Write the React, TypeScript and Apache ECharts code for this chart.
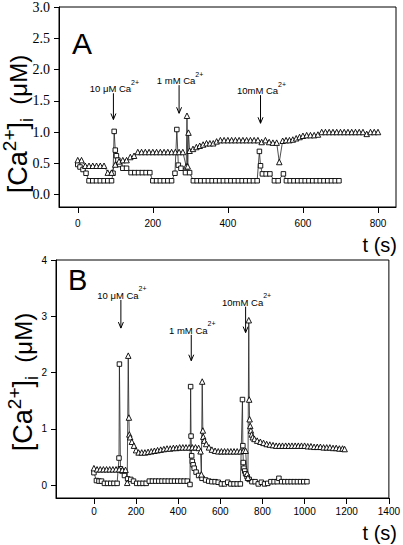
import React, { useEffect, useRef } from "react";
import * as echarts from "echarts";

// Panel A: [t (s), [Ca2+]i (µM)]
const trianglesA: [number, number][] = [
  [0, 0.55], [10, 0.55], [20, 0.46], [30, 0.46], [40, 0.46], [50, 0.46], [60, 0.46], [70, 0.46],
  [80, 0.35], [90, 0.35], [100, 0.48], [110, 0.53], [120, 0.55], [130, 0.55], [140, 0.6], [150, 0.62],
  [160, 0.68], [170, 0.68], [180, 0.68], [190, 0.68], [200, 0.68], [210, 0.68], [220, 0.68], [230, 0.68],
  [240, 0.68], [250, 0.68], [260, 0.68], [270, 0.68], [280, 0.68], [289, 0.45], [291, 1.26], [293, 0.45],
  [295, 0.99], [298, 0.7], [307, 0.73], [316, 0.76], [325, 0.78], [334, 0.8], [343, 0.82], [352, 0.82],
  [361, 0.82], [370, 0.85], [380, 0.87], [390, 0.87], [400, 0.87], [410, 0.87], [420, 0.87], [430, 0.87],
  [440, 0.87], [450, 0.87], [460, 0.87], [470, 0.87], [480, 0.87], [490, 0.84], [500, 0.87], [510, 0.84],
  [520, 0.83], [530, 0.83], [537, 0.52], [546, 0.86], [555, 0.87], [564, 0.87], [573, 0.88], [582, 0.9],
  [591, 0.92], [600, 0.94], [610, 0.95], [620, 0.95], [630, 0.95], [640, 0.96], [650, 1.0], [660, 1.0],
  [670, 1.0], [680, 1.0], [690, 1.0], [700, 1.0], [710, 1.0], [720, 1.0], [730, 1.0], [740, 1.0],
  [750, 1.0], [760, 1.0], [770, 0.97], [780, 1.0], [790, 1.0], [800, 1.0],
];
const squaresA: [number, number][] = [
  [0, 0.48], [6, 0.44], [14, 0.4], [22, 0.34], [30, 0.22], [40, 0.22], [50, 0.22], [60, 0.22],
  [70, 0.22], [80, 0.22], [90, 0.22], [94, 0.34], [97, 1.01], [100, 0.71], [103, 0.62], [107, 0.55],
  [112, 0.48], [120, 0.42], [130, 0.42], [142, 0.35], [152, 0.35], [162, 0.35], [172, 0.35], [182, 0.35],
  [192, 0.35], [200, 0.22], [210, 0.22], [220, 0.22], [230, 0.22], [240, 0.22], [250, 0.22], [259, 0.34],
  [264, 1.04], [268, 0.47], [275, 0.42], [287, 0.35], [298, 0.35], [308, 0.22], [318, 0.22], [328, 0.22],
  [338, 0.22], [348, 0.22], [358, 0.22], [368, 0.22], [378, 0.22], [388, 0.22], [398, 0.22], [408, 0.22],
  [418, 0.22], [428, 0.22], [438, 0.22], [448, 0.22], [458, 0.22], [468, 0.22], [478, 0.22], [484, 0.69],
  [487, 0.46], [492, 0.33], [502, 0.33], [512, 0.33], [524, 0.22], [534, 0.22], [548, 0.33], [556, 0.22],
  [566, 0.22], [576, 0.22], [586, 0.22], [596, 0.22], [606, 0.22], [616, 0.22], [626, 0.22], [636, 0.22],
  [646, 0.22], [656, 0.22], [666, 0.22], [676, 0.22], [686, 0.22], [696, 0.22],
];

// Panel B
const trianglesB: [number, number][] = [
  [0, 0.3], [15, 0.28], [30, 0.28], [45, 0.28], [60, 0.28], [75, 0.28], [90, 0.28], [105, 0.28],
  [120, 0.28], [135, 0.27], [150, 0.27], [158, 0.04], [163, 2.3], [166, 1.2], [168, 0.9], [172, 0.85],
  [180, 0.77], [190, 0.7], [200, 0.62], [212, 0.58], [227, 0.58], [242, 0.58], [257, 0.59], [272, 0.6],
  [287, 0.61], [302, 0.62], [317, 0.63], [332, 0.64], [347, 0.65], [362, 0.65], [377, 0.66], [392, 0.66],
  [407, 0.67], [422, 0.67], [437, 0.67], [452, 0.67], [467, 0.67], [482, 0.67], [497, 0.66], [506, 0.6],
  [510, 0.19], [514, 1.84], [517, 0.97], [519, 0.86], [524, 0.79], [533, 0.73], [546, 0.67], [560, 0.63],
  [575, 0.61], [590, 0.6], [605, 0.6], [620, 0.6], [635, 0.6], [650, 0.6], [665, 0.6], [680, 0.6],
  [695, 0.6], [710, 0.61], [720, 0.61], [727, 0.2], [731, 0.13], [735, 2.93], [737, 1.52], [739, 1.17],
  [742, 1.05], [745, 0.97], [749, 0.9], [754, 0.85], [762, 0.82], [775, 0.79], [790, 0.77], [805, 0.75],
  [820, 0.73], [835, 0.72], [850, 0.71], [865, 0.7], [880, 0.7], [895, 0.7], [910, 0.7], [925, 0.7],
  [940, 0.7], [955, 0.7], [970, 0.7], [985, 0.7], [1000, 0.7], [1015, 0.69], [1030, 0.69], [1045, 0.68],
  [1060, 0.68], [1075, 0.68], [1090, 0.67], [1105, 0.67], [1120, 0.67], [1135, 0.66], [1150, 0.66],
  [1165, 0.65], [1180, 0.65], [1190, 0.64],
];
const squaresB: [number, number][] = [
  [0, 0.22], [12, 0.08], [24, 0.07], [36, 0.07], [50, 0.03], [65, 0.03], [80, 0.03], [95, 0.03],
  [110, 0.03], [119, 0.48], [121, 2.15], [126, 0.29], [133, 0.25], [145, 0.17], [160, 0.11], [175, 0.1],
  [188, 0.07], [203, 0.03], [218, 0.03], [233, 0.03], [248, 0.03], [263, 0.07], [278, 0.07], [293, 0.07],
  [308, 0.07], [323, 0.07], [338, 0.07], [353, 0.07], [368, 0.07], [383, 0.07], [398, 0.07], [413, 0.07],
  [428, 0.07], [443, 0.07], [456, 0.01], [459, 1.75], [461, 0.87], [464, 0.52], [467, 0.42], [471, 0.36],
  [476, 0.3], [485, 0.23], [497, 0.17], [513, 0.12], [530, 0.09], [545, 0.07], [560, 0.06], [575, 0.06],
  [590, 0.05], [605, 0.02], [620, 0.02], [635, 0.05], [650, 0.02], [665, 0.02], [680, 0.02], [695, 0.02],
  [705, 1.52], [707, 0.7], [709, 0.4], [712, 0.3], [716, 0.25], [720, 0.2], [727, 0.15], [737, 0.1],
  [750, 0.06], [765, 0.06], [780, 0.02], [795, 0.05], [810, 0.02], [825, 0.03], [840, 0.06], [855, 0.06],
  [870, 0.06], [878, 0.12], [891, 0.06], [906, 0.06], [921, 0.06], [936, 0.06], [951, 0.06], [966, 0.06],
  [981, 0.06], [996, 0.06], [1011, 0.06],
];

const xTicksA = [0, 200, 400, 600, 800];
const yTicksA = [0, 0.5, 1, 1.5, 2, 2.5, 3];
const xTicksB = [0, 200, 400, 600, 800, 1000, 1200, 1400];
const yTicksB = [0, 1, 2, 3, 4];

// Annotation arrows: [t, arrow top value, arrow tip value]
const arrowLabels = ["10 μM Ca", "1 mM Ca", "10mM Ca"];
const arrowsA: [number, number, number][] = [[95, 1.62, 1.2], [270, 1.75, 1.3], [487, 1.59, 1.14]];
const arrowsB: [number, number, number][] = [[128, 3.29, 2.79], [462, 2.67, 2.21], [720, 3.17, 2.71]];

const SANS = "Liberation Sans, Arial, sans-serif";
const SERIF = "Liberation Serif, Times New Roman, serif";

function lineSeries(data: [number, number][], idx: number, symbol: string, size: number) {
  return {
    type: "line",
    xAxisIndex: idx,
    yAxisIndex: idx,
    data,
    symbol,
    symbolSize: size,
    showAllSymbol: true,
    lineStyle: { color: "#222", width: 0.8 },
    itemStyle: { color: "#fff", borderColor: "#000", borderWidth: 0.9 },
    emphasis: { disabled: true },
    silent: true,
  };
}

function xAxis(idx: number, min: number, max: number, ticks: number[], margin: number) {
  return {
    type: "value",
    gridIndex: idx,
    min,
    max,
    axisLine: { show: true, onZero: false, lineStyle: { color: "#000", width: 1 } },
    axisTick: { show: true, customValues: ticks, length: 6, lineStyle: { color: "#000" } },
    axisLabel: {
      customValues: ticks,
      fontFamily: SANS,
      fontSize: 10,
      color: "#000",
      margin,
      formatter: (v: number) => String(v),
    },
    splitLine: { show: false },
  };
}

function yAxis(idx: number, min: number, max: number, ticks: number[], font: string, size: number, fmt: (v: number) => string, margin: number) {
  return {
    type: "value",
    gridIndex: idx,
    min,
    max,
    axisLine: { show: true, onZero: false, lineStyle: { color: "#000", width: 1 } },
    axisTick: { show: true, customValues: ticks, length: 5, lineStyle: { color: "#000" } },
    axisLabel: { customValues: ticks, fontFamily: font, fontSize: size, color: "#000", margin, formatter: fmt },
    splitLine: { show: false },
  };
}

const richAnn = {
  m: { fontFamily: SANS, fontSize: 9.5, lineHeight: 20, fill: "#000", color: "#000" },
  s: { fontFamily: SANS, fontSize: 7, lineHeight: 8, verticalAlign: "top", fill: "#000", color: "#000" },
};

const richName = {
  m: { fontFamily: SANS, fontSize: 27, lineHeight: 36, color: "#000", fill: "#000" },
  sp: { fontFamily: SANS, fontSize: 19, lineHeight: 16, verticalAlign: "top", color: "#000", fill: "#000" },
  sb: { fontFamily: SANS, fontSize: 18, lineHeight: 16, verticalAlign: "bottom", color: "#000", fill: "#000" },
  u: { fontFamily: SANS, fontSize: 24, lineHeight: 36, color: "#000", fill: "#000" },
};

function txt(x: number, y: number, text: string, size: number, align: string, rotation = 0, rich?: any) {
  return {
    type: "text",
    x,
    y,
    rotation,
    silent: true,
    style: {
      text,
      fill: "#000",
      fontFamily: SANS,
      fontSize: size,
      align,
      textAlign: align,
      verticalAlign: "middle",
      textVerticalAlign: "middle",
      rich,
    },
  };
}

export default function App() {
  const ref = useRef<HTMLDivElement>(null);
  useEffect(() => {
    document.body.style.margin = "0";
    const chart = echarts.init(ref.current!, null, { renderer: "svg" });
    chart.setOption({
      animation: false,
      backgroundColor: "#fff",
      grid: [
        { left: 59, top: 7, width: 337, height: 200, show: true, borderColor: "#000", borderWidth: 1 },
        { left: 56, top: 260, width: 336, height: 238, show: true, borderColor: "#000", borderWidth: 1 },
      ],
      xAxis: [xAxis(0, -50, 848, xTicksA, 11), xAxis(1, -180, 1400, xTicksB, 8)],
      yAxis: [
        yAxis(0, -0.2, 3, yTicksA, SERIF, 14, (v: number) => v.toFixed(1), 9),
        yAxis(1, -0.23, 4, yTicksB, SANS, 10, (v: number) => String(v), 9),
      ],
      series: [
        lineSeries(squaresA, 0, "rect", 4.5),
        lineSeries(trianglesA, 0, "triangle", 5.5),
        lineSeries(squaresB, 1, "rect", 4.5),
        lineSeries(trianglesB, 1, "triangle", 5.5),
      ],
    });

    const g: any[] = [];
    const addArrows = (arr: [number, number, number][], gridIndex: number) => {
      arr.forEach(([t, top, tip], i) => {
        const p1 = chart.convertToPixel({ gridIndex }, [t, top]) as number[];
        const p2 = chart.convertToPixel({ gridIndex }, [t, tip]) as number[];
        const x = p1[0];
        g.push({ type: "line", silent: true, shape: { x1: x, y1: p1[1], x2: x, y2: p2[1] }, style: { stroke: "#000", lineWidth: 1 } });
        g.push({
          type: "polyline",
          silent: true,
          shape: { points: [[x - 2.5, p2[1] - 6], [x, p2[1]], [x + 2.5, p2[1] - 6]] },
          style: { stroke: "#000", fill: null, lineWidth: 1 },
        });
        g.push(txt(x + 1, p1[1] - 4.5, `{m|${arrowLabels[i]}}{s|2+}`, 9.5, "center", 0, richAnn));
      });
    };
    addArrows(arrowsA, 0);
    addArrows(arrowsB, 1);

    g.push(txt(72, 43, "A", 30, "left"));
    g.push(txt(68, 280, "B", 29, "left"));
    g.push(txt(397, 245, "t (s)", 20, "right"));
    g.push(txt(397, 533, "t (s)", 20, "right"));
    const nameText = "{m|[Ca}{sp|2+}{m|]}{sb|i}{u|  (μM)}";
    g.push(txt(18, 124, nameText, 27, "center", Math.PI / 2, richName));
    g.push(txt(23, 382, nameText, 27, "center", Math.PI / 2, richName));

    chart.setOption({ graphic: g });
    return () => chart.dispose();
  }, []);
  return (
    <div
      ref={ref}
      style={{ position: "absolute", left: 0, top: 0, width: 403, height: 545, background: "#fff" }}
    />
  );
}
